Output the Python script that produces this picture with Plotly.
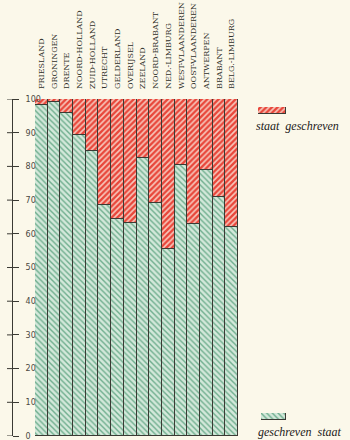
import plotly.graph_objects as go

provinces = [
    "FRIESLAND", "GRONINGEN", "DRENTE", "NOORD-HOLLAND", "ZUID-HOLLAND",
    "UTRECHT", "GELDERLAND", "OVERIJSEL", "ZEELAND", "NOORD-BRABANT",
    "NED.-LIMBURG", "WEST-VLAANDEREN", "OOST-VLAANDEREN", "ANTWERPEN",
    "BRABANT", "BELG.-LIMBURG",
]
# percentage of "geschreven staat" per province; the rest is "staat geschreven"
geschreven_staat = [98.3, 99.0, 95.8, 89.3, 84.6, 68.5, 64.4, 63.2,
                    82.4, 69.2, 55.4, 80.5, 62.8, 78.8, 70.8, 62.1]
staat_geschreven = [round(100 - v, 1) for v in geschreven_staat]
y_ticks = [0, 10, 20, 30, 40, 50, 60, 70, 80, 90, 100]

BG = "#fbf8ea"
INK = "#3b3a34"
GREEN_BG = "#d3e8da"
GREEN_FG = "#6fae8e"
RED_BG = "#e8463a"
RED_FG = "#f7c9bd"

green_pattern = dict(shape="\\", bgcolor=GREEN_BG, fgcolor=GREEN_FG,
                     size=4, solidity=0.35, fillmode="replace")
red_pattern = dict(shape="/", bgcolor=RED_BG, fgcolor=RED_FG,
                   size=4, solidity=0.4, fillmode="replace")

fig = go.Figure()
fig.add_trace(go.Bar(
    x=provinces, y=geschreven_staat, name="geschreven staat",
    marker=dict(color=GREEN_BG, pattern=green_pattern,
                line=dict(color=INK, width=1)),
    showlegend=False, hoverinfo="skip",
))
fig.add_trace(go.Bar(
    x=provinces, y=staat_geschreven, name="staat geschreven",
    marker=dict(color=RED_BG, pattern=red_pattern,
                line=dict(color=INK, width=1)),
    showlegend=False, hoverinfo="skip",
))

# legend swatches drawn as single patterned bars on small inset axes
fig.add_trace(go.Bar(
    x=[0], y=[1], xaxis="x2", yaxis="y2", width=1,
    marker=dict(color=RED_BG, pattern=red_pattern,
                line=dict(color=INK, width=1)),
    showlegend=False, hoverinfo="skip",
))
fig.add_trace(go.Bar(
    x=[0], y=[1], xaxis="x3", yaxis="y3", width=1,
    marker=dict(color=GREEN_BG, pattern=green_pattern,
                line=dict(color=INK, width=1)),
    showlegend=False, hoverinfo="skip",
))

W, H = 350, 440
ML, MR, MT, MB = 5, 4, 99, 4
pw = W - ML - MR
ph = H - MT - MB


def px_x(x):
    return (x - ML) / pw


def px_y(y):
    return (H - MB - y) / ph


AXIS_X = 12  # horizontal position of the free-standing scale

label_font = dict(family="DejaVu Serif", size=8, color="#2e2d28")
legend_font = dict(family="Liberation Serif", size=12, color="#222019",
                   style="italic")

# left half of each scale tick (the right half is drawn by the axis itself)
tick_shapes = [
    dict(type="line", xref="paper", yref="y",
         x0=px_x(AXIS_X - 5), x1=px_x(AXIS_X), y0=t, y1=t,
         line=dict(color=INK, width=1))
    for t in y_ticks
]

fig.update_layout(
    width=W, height=H,
    margin=dict(l=ML, r=MR, t=MT, b=MB, autoexpand=False),
    paper_bgcolor=BG, plot_bgcolor=BG,
    barmode="stack", bargap=0,
    xaxis=dict(
        domain=[px_x(35), px_x(238)], side="top", tickangle=-90,
        tickfont=label_font, ticks="", ticklabelstandoff=9,
        automargin=False, ticklabeloverflow="allow",
        showgrid=False, zeroline=False, showline=False, fixedrange=True,
    ),
    yaxis=dict(
        range=[0, 100], anchor="free", position=px_x(AXIS_X), side="right",
        tickvals=y_ticks, ticks="outside", ticklen=6, tickwidth=1,
        tickcolor=INK, showline=True, linecolor=INK, linewidth=1,
        showticklabels=True, ticklabelstandoff=5, automargin=False,
        ticklabeloverflow="allow",
        tickfont=dict(family="DejaVu Sans", size=8, color="#4a4942"),
        showgrid=False, zeroline=False, fixedrange=True,
    ),
    xaxis2=dict(domain=[px_x(258), px_x(286)], range=[-0.5, 0.5],
                visible=False, anchor="y2", fixedrange=True),
    yaxis2=dict(domain=[px_y(114), px_y(107)], range=[0, 1],
                visible=False, anchor="x2", fixedrange=True),
    xaxis3=dict(domain=[px_x(261), px_x(286)], range=[-0.5, 0.5],
                visible=False, anchor="y3", fixedrange=True),
    yaxis3=dict(domain=[px_y(420), px_y(413)], range=[0, 1],
                visible=False, anchor="x3", fixedrange=True),
    shapes=tick_shapes,
    annotations=[
        dict(text="staat  geschreven", xref="paper", yref="paper",
             x=px_x(297), y=px_y(126), showarrow=False, font=legend_font,
             xanchor="center", yanchor="middle"),
        dict(text="geschreven  staat", xref="paper", yref="paper",
             x=px_x(300), y=px_y(432), showarrow=False, font=legend_font,
             xanchor="center", yanchor="middle"),
    ],
    showlegend=False,
)

fig.write_html("out.html", config=dict(displayModeBar=False))
